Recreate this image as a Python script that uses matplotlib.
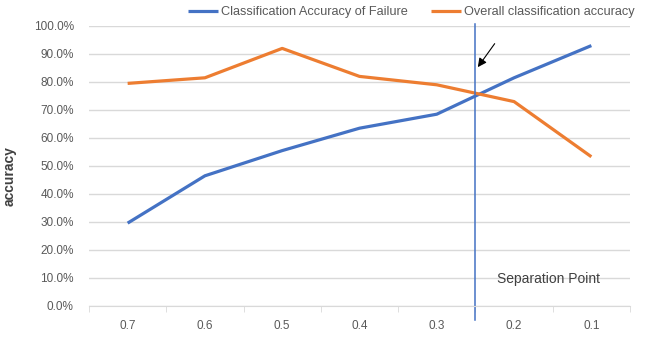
import matplotlib.pyplot as plt
from matplotlib.ticker import PercentFormatter

plt.rcParams['font.family'] = ['Liberation Sans', 'DejaVu Sans']

thresholds = ['0.7', '0.6', '0.5', '0.4', '0.3', '0.2', '0.1']
acc_failure = [0.296, 0.465, 0.555, 0.635, 0.685, 0.815, 0.93]
acc_overall = [0.795, 0.815, 0.92, 0.82, 0.79, 0.73, 0.533]

fig = plt.figure(figsize=(6.48, 3.39), dpi=100)
ax = fig.add_axes([89 / 648, 1 - 306 / 339, (630 - 89) / 648, (306 - 26) / 339])

x = range(len(thresholds))
ax.plot(x, acc_failure, color='#4472C4', lw=2.3, label='Classification Accuracy of Failure',
        solid_capstyle='butt')
ax.plot(x, acc_overall, color='#ED7D31', lw=2.3, label='Overall classification accuracy',
        solid_capstyle='butt')

ax.set_xlim(-0.5, len(thresholds) - 0.5)
ax.set_ylim(0, 1.0)
ax.set_yticks([i / 10 for i in range(11)])
ax.yaxis.set_major_formatter(PercentFormatter(1.0, decimals=1))
ax.set_xticks(list(x))
ax.set_xticklabels(thresholds)
ax.set_xticks([i - 0.5 for i in range(len(thresholds) + 1)], minor=True)

ax.grid(axis='y', color='#d9d9d9', lw=1)
ax.set_axisbelow(True)
for s in ['top', 'right', 'left']:
    ax.spines[s].set_visible(False)
ax.spines['bottom'].set_color('#d9d9d9')
ax.tick_params(axis='y', length=0, pad=11, labelsize=8.5, labelcolor='#595959')
ax.tick_params(axis='x', which='major', length=0, pad=10, labelsize=8.5, labelcolor='#595959')
ax.tick_params(axis='x', which='minor', length=4, color='#d9d9d9')

# separation point
ax.plot([4.5, 4.5], [-0.05, 1.007], color='#4472C4', lw=1.1, clip_on=False)
ax.annotate('', xy=(4.51, 0.845), xytext=(4.77, 0.945),
            arrowprops=dict(arrowstyle='-|>', color='black', lw=0.8, mutation_scale=13))
ax.text(5.44, 0.095, 'Separation Point', fontsize=10, color='#404040', ha='center', va='center')

fig.text(10 / 648, 1 - 176 / 339, 'accuracy', rotation=90, fontsize=10, color='#404040',
         fontweight='bold', ha='center', va='center')

ax.legend(loc='center', bbox_to_anchor=(411 / 648, 1 - 12 / 339), bbox_transform=fig.transFigure,
          ncol=2, frameon=False, fontsize=9.2, handlelength=2.4, handletextpad=0.2,
          columnspacing=1.8, labelcolor='#595959')

fig.savefig('out.png', dpi=100)
